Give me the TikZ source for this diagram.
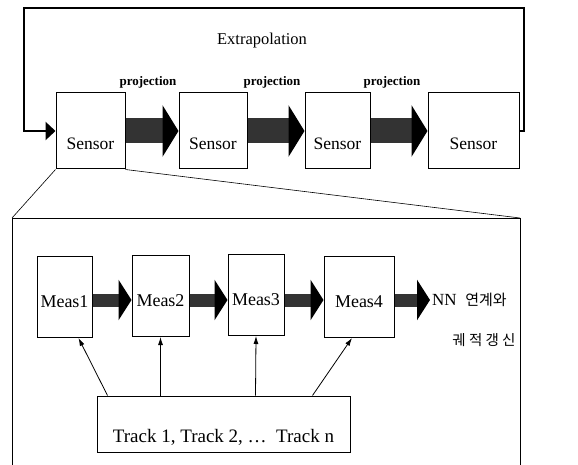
\documentclass[tikz,border=0pt]{standalone}
\usepackage{fontspec}
\setmainfont{Liberation Serif}
\newfontfamily\kofont{Noto Sans CJK KR}
\usetikzlibrary{arrows.meta}

\tikzset{
  sensorbox/.style={draw, line width=1pt, minimum height=76pt, inner sep=0pt,
    text height=37pt, text depth=0pt, font=\fontsize{17.5}{20}\selectfont},
  measbox/.style={draw, line width=1pt, minimum height=81pt, inner sep=0pt,
    text height=21pt, text depth=0pt, font=\fontsize{18}{20}\selectfont},
  bigarrow/.style={line width=25pt, black!80, -{Triangle[length=16pt,width=51pt,color=black]}},
  smallarrow/.style={line width=13pt, black!80, -{Triangle[length=13pt,width=40pt,color=black]}},
  trackarrow/.style={line width=0.8pt, -{Latex[length=8pt,width=5pt]}},
  projlabel/.style={font=\bfseries\fontsize{13}{15}\selectfont},
}

\begin{document}
\begin{tikzpicture}[x=1pt, y=-1pt]
  \useasboundingbox (0,0) rectangle (578,465);

  % sensors
  \node[sensorbox, minimum width=69pt] (s1) at (90.5,131) {Sensor};
  \node[sensorbox, minimum width=68pt] (s2) at (213,131) {Sensor};
  \node[sensorbox, minimum width=65pt] (s3) at (337.5,131) {Sensor};
  \node[sensorbox, minimum width=91pt] (s4) at (473.5,131) {Sensor};

  \node[projlabel] (proj1) at (148,82) {projection};
  \node[projlabel] (proj2) at (272,82) {projection};
  \node[projlabel] (proj3) at (392,82) {projection};
  \node[font=\fontsize{16.5}{18}\selectfont] (extrap) at (262,41) {Extrapolation};

  \draw[bigarrow] (s1.east) -- (s2.west);
  \draw[bigarrow] (s2.east) -- (s3.west);
  \draw[bigarrow] (s3.east) -- (s4.west);

  % extrapolation loop
  \coordinate (looptr) at (524,8);
  \coordinate (looptl) at (24,8);
  \draw[line width=2.5pt, -{Triangle[length=10pt,width=18pt]}]
    (s4.east) -| (looptr) -- (looptl) |- (s1.west);

  % zoomed view
  \coordinate (zoomtl) at (12,218);
  \coordinate (zoomtr) at (520,218);
  \coordinate (zoombl) at (12,465);
  \coordinate (zoombr) at (520,465);
  \draw[line width=0.6pt] (s1.south west) -- (zoomtl);
  \draw[line width=0.6pt] (s1.south east) -- (zoomtr);
  \draw[line width=1pt] (zoombl) -- (zoomtl) -- (zoomtr) -- (zoombr);

  \node[measbox, minimum width=55pt] (m1) at (64.5,297) {Meas1};
  \node[measbox, minimum width=57pt] (m2) at (160.5,296) {Meas2};
  \node[measbox, minimum width=56pt] (m3) at (256,295) {Meas3};
  \node[measbox, minimum width=70pt] (m4) at (359,297) {Meas4};

  \node[anchor=west, inner sep=2pt, font=\fontsize{17}{20}\selectfont] (nn) at (430,300)
    {NN\ \ {\kofont\fontsize{15}{16}\selectfont 연계와}};
  \node[font=\kofont\fontsize{14.5}{16}\selectfont] (traj) at (484,340) {궤 적 갱 신};

  \draw[smallarrow] ([yshift=-3pt]m1.east) -- ([yshift=-4pt]m2.west);
  \draw[smallarrow] ([yshift=-4pt]m2.east) -- ([yshift=-5pt]m3.west);
  \draw[smallarrow] ([yshift=-5pt]m3.east) -- ([yshift=-3pt]m4.west);
  \draw[smallarrow] ([yshift=-3pt]m4.east) -- (nn.west);

  \node[draw, line width=1pt, minimum width=253pt, minimum height=56pt, inner sep=0pt,
    text height=36pt, text depth=0pt, font=\fontsize{19}{21}\selectfont]
    (track) at (223.5,424) {Track 1, Track 2, \dots\ \ Track n};

  \draw[trackarrow] ([xshift=11pt]track.north west) -- ([xshift=14pt]m1.south);
  \draw[trackarrow] ([xshift=64pt]track.north west) -- (m2.south);
  \draw[trackarrow] ([xshift=159pt]track.north west) -- (m3.south);
  \draw[trackarrow] ([xshift=216pt]track.north west) -- ([xshift=-7pt]m4.south);
\end{tikzpicture}
\end{document}
